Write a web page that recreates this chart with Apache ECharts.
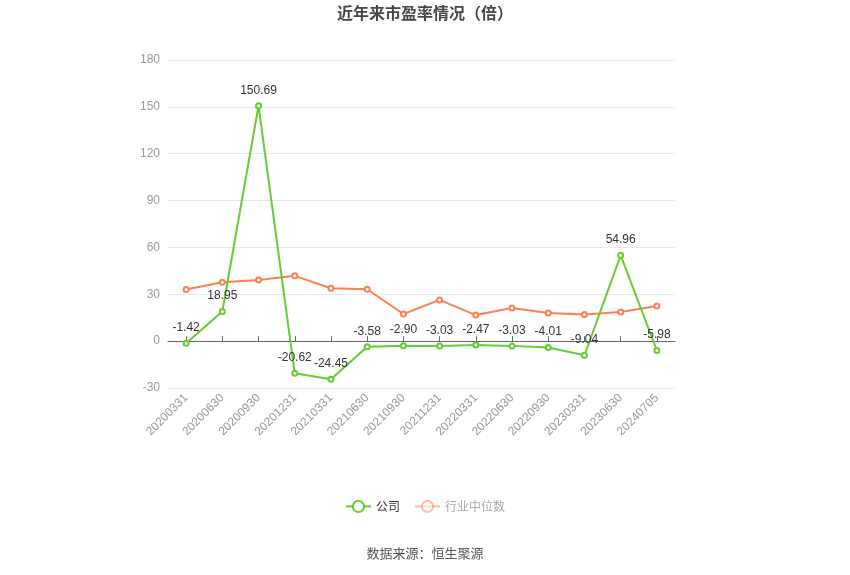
<!DOCTYPE html>
<html><head><meta charset="utf-8">
<script src="https://cdn.jsdelivr.net/npm/echarts@6/dist/echarts.min.js"></script>
<style>html,body{margin:0;padding:0;background:#fff}#c{width:850px;height:575px}</style>
</head><body><div id="c"></div>
<script>
var categories = ['20200331','20200630','20200930','20201231','20210331','20210630','20210930','20211231','20220331','20220630','20220930','20230331','20230630','20240705'];
var companyPE = [-1.42, 18.95, 150.69, -20.62, -24.45, -3.58, -2.90, -3.03, -2.47, -3.03, -4.01, -9.04, 54.96, -5.98];
var industryPE = [33.0, 37.7, 39.2, 41.8, 33.9, 33.2, 17.4, 26.4, 16.7, 21.2, 18.0, 17.1, 18.6, 22.5];
var yTicks = {min: -30, max: 180, interval: 30};

var chart = echarts.init(document.getElementById('c'));
chart.setOption({
  animation: false,
  title: {text: '近年来市盈率情况（倍）', left: 'center', top: 0,
    textStyle: {fontSize: 16, fontWeight: 'bold', color: '#464646', fontFamily: 'Noto Sans CJK SC'}},
  grid: {left: 168, right: 175, top: 60, bottom: 187},
  legend: {bottom: 57, left: 'center', itemWidth: 25, itemHeight: 14, itemGap: 14,
    textStyle: {fontSize: 12, color: '#333', fontFamily: 'Noto Sans CJK SC'},
    data: [{name: '公司'}, {name: '行业中位数', textStyle: {color: '#aaa'}, itemStyle: {opacity: 0.5}, lineStyle: {opacity: 0.5}}]},
  graphic: [{type: 'text', left: 'center', top: 547,
    style: {text: '数据来源：恒生聚源', fontSize: 13, fill: '#555', fontFamily: 'Noto Sans CJK SC'}}],
  xAxis: [{
    type: 'category', data: categories, position: 'bottom', boundaryGap: true,
    axisLine: {show: false, onZero: false}, axisTick: {show: false},
    axisLabel: {rotate: 45, color: '#999', fontSize: 12, margin: 8, interval: 0}
  }, {
    type: 'category', data: categories, position: 'bottom', boundaryGap: true,
    axisLine: {show: true, onZero: true, lineStyle: {color: '#666'}},
    axisTick: {show: true, inside: true, alignWithLabel: true, interval: 0, length: 5, lineStyle: {color: '#666'}},
    axisLabel: {show: false, interval: 0}
  }],
  yAxis: {type: 'value', min: yTicks.min, max: yTicks.max, interval: yTicks.interval,
    axisLine: {show: false}, axisTick: {show: false},
    axisLabel: {color: '#999', fontSize: 12, margin: 8},
    splitLine: {lineStyle: {color: '#e6e8f0'}}},
  series: [{
    name: '公司', type: 'line', data: companyPE, symbol: 'emptyCircle', symbolSize: 5,
    itemStyle: {color: '#66cc33'}, lineStyle: {width: 2, color: '#66cc33'},
    label: {show: true, position: 'top', color: '#333', fontSize: 12, distance: 6,
      formatter: function(p){return p.value.toFixed(2);}},
    z: 3
  }, {
    name: '行业中位数', type: 'line', data: industryPE, symbol: 'emptyCircle', symbolSize: 5,
    itemStyle: {color: '#fa8150'}, lineStyle: {width: 2, color: '#fa8150'}, z: 2
  }]
});
</script></body></html>
